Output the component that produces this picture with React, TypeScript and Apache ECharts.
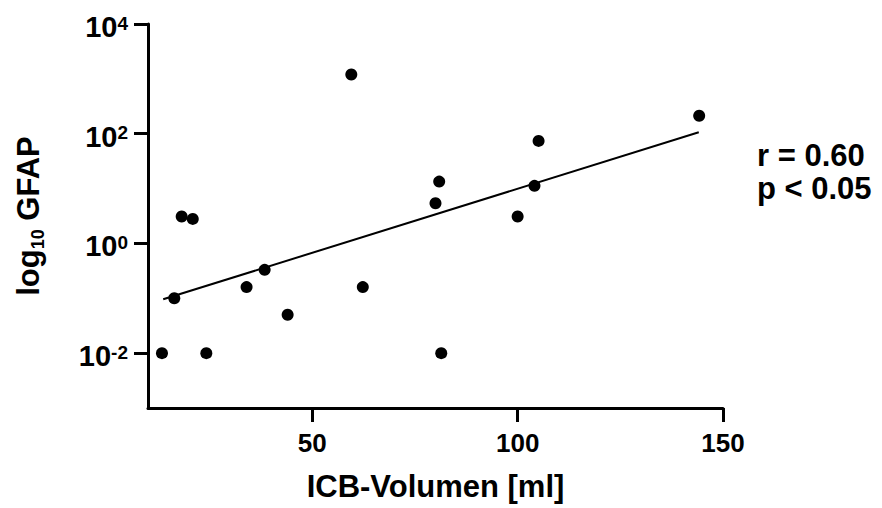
import React, { useEffect, useRef } from "react";
import * as echarts from "echarts";

// ICB volume (ml) for each patient
const icbVolume = [13.4, 16.4, 18.2, 20.9, 24.2, 34.0, 38.4, 44.0, 59.5, 62.3, 80.0, 80.9, 81.4, 100.0, 104.1, 105.1, 144.2];
// GFAP values (plotted on log10 axis)
const gfap = [0.01, 0.1, 3.1, 2.8, 0.01, 0.16, 0.33, 0.05, 1200, 0.16, 5.4, 13.4, 0.01, 3.1, 11.2, 74, 212];
// regression line endpoints
const fitX = [13.7, 144.1];
const fitY = [0.096, 106];
// ticks
const xTicks = [50, 100, 150];
const yTicks = [0.01, 1, 100, 10000];
const statsLines = ["r = 0.60", "p < 0.05"];

const FONT = "'Liberation Sans', Arial, Helvetica, sans-serif";

export default function App() {
  const ref = useRef<HTMLDivElement>(null);
  useEffect(() => {
    if (!ref.current) return;
    const chart = echarts.init(ref.current, undefined, { renderer: "svg" });
    const points = icbVolume.map((x, i) => [x, gfap[i]]);
    const fit = fitX.map((x, i) => [x, fitY[i]]);
    chart.setOption({
      animation: false,
      backgroundColor: "#ffffff",
      textStyle: { fontFamily: FONT, color: "#000" },
      grid: { left: 148, right: 159, top: 24, bottom: 100, containLabel: false },
      xAxis: {
        type: "value",
        min: 10,
        max: 150,
        name: "ICB-Volumen [ml]",
        nameLocation: "middle",
        nameGap: 63,
        nameTextStyle: { fontSize: 31, fontWeight: "bold", color: "#000", fontFamily: FONT },
        axisLine: { show: true, lineStyle: { color: "#000", width: 3 } },
        axisTick: { show: true, length: 14, lineStyle: { color: "#000", width: 3 }, customValues: xTicks },
        axisLabel: { fontSize: 26, fontWeight: "bold", color: "#000", margin: 22, fontFamily: FONT, customValues: xTicks },
        splitLine: { show: false },
      },
      yAxis: {
        type: "log",
        logBase: 10,
        min: 0.001,
        max: 10000,
        axisLine: { show: true, lineStyle: { color: "#000", width: 3 } },
        axisTick: { show: true, length: 14, lineStyle: { color: "#000", width: 3 }, customValues: yTicks },
        axisLabel: {
          margin: 20,
          customValues: yTicks,
          formatter: (v: number) => `{b|10}{s|${Math.round(Math.log10(v))}}`,
          rich: {
            b: { fontSize: 29, fontWeight: "bold", color: "#000", fontFamily: FONT, lineHeight: 29, padding: [6, 0, 0, 0] },
            s: { fontSize: 19, fontWeight: "bold", color: "#000", fontFamily: FONT, lineHeight: 19, verticalAlign: "top", padding: [4, 0, 0, 0] },
          },
        },
        splitLine: { show: false },
      },
      graphic: [
        {
          type: "text",
          x: 28,
          y: 216,
          rotation: Math.PI / 2,
          style: {
            text: "{a|log}{b|10}{a| GFAP}",
            align: "center",
            verticalAlign: "middle",
            rich: {
              a: { fontSize: 31, fontWeight: "bold", fill: "#000", fontFamily: FONT, lineHeight: 38 },
              b: { fontSize: 18, fontWeight: "bold", fill: "#000", fontFamily: FONT, lineHeight: 18, verticalAlign: "bottom" },
            },
          },
        },
        {
          type: "text",
          left: 757,
          top: 139,
          style: {
            text: statsLines.join("\n"),
            font: `bold 31px ${FONT}`,
            fill: "#000",
            lineHeight: 33,
          },
        },
      ],
      series: [
        {
          type: "line",
          data: fit,
          showSymbol: false,
          symbol: "none",
          lineStyle: { color: "#000", width: 2 },
          silent: true,
          z: 2,
        },
        {
          type: "scatter",
          data: points,
          symbol: "circle",
          symbolSize: 12,
          itemStyle: { color: "#000", opacity: 1 },
          z: 3,
        },
      ],
    });
    return () => chart.dispose();
  }, []);
  return <div ref={ref} style={{ position: "absolute", left: 0, top: 0, width: 882, height: 508 }} />;
}
